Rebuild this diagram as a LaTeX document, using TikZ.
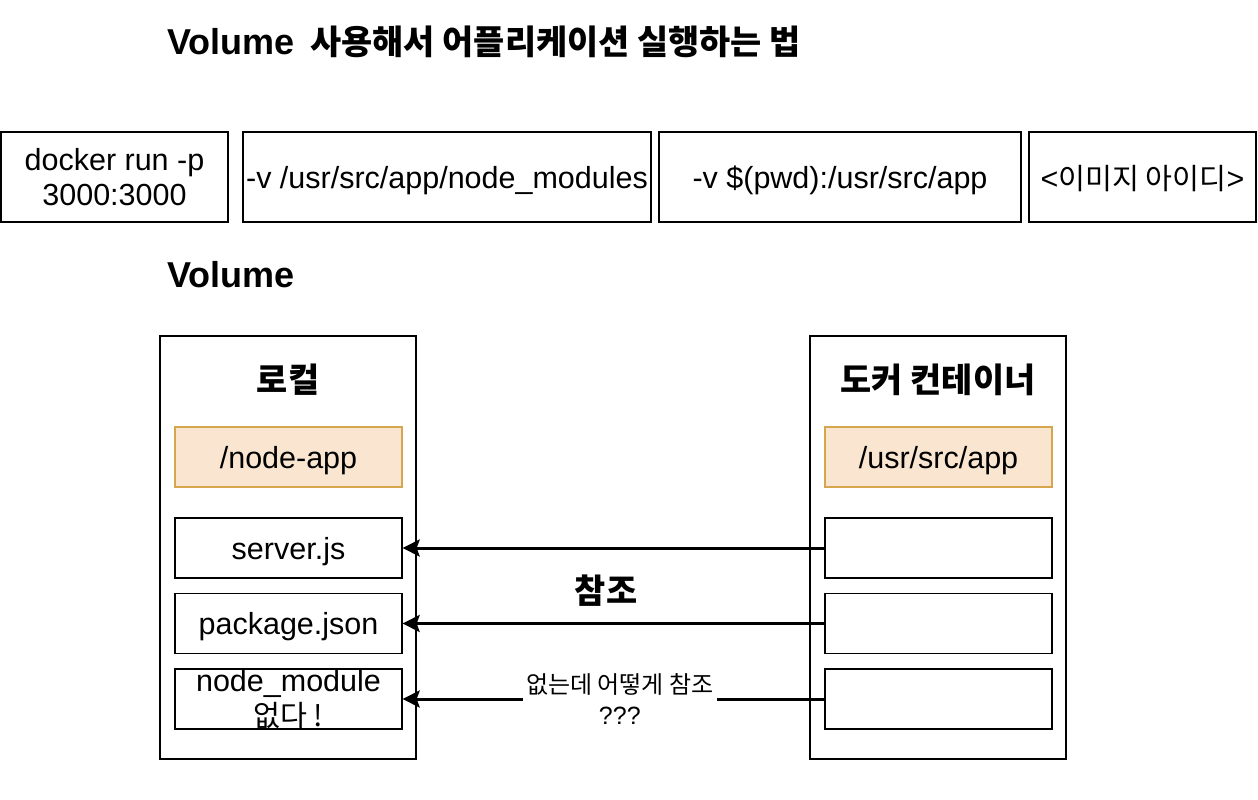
\documentclass[tikz,border=0pt]{standalone}
\usepackage{fontspec}
\setmainfont{Liberation Sans}
\newfontfamily\cjk[Scale=0.96]{Noto Sans CJK KR}
\newfontfamily\cjkh[Scale=0.94]{Noto Sans CJK KR}
\usetikzlibrary{arrows.meta}
\definecolor{ofill}{HTML}{FAE6D0}
\definecolor{odraw}{HTML}{D6A64E}
\begin{document}
\begin{tikzpicture}[x=1pt,y=-1pt,
  rbox/.style={draw=black, line width=1.3pt, inner sep=0pt, align=center,
    font=\fontsize{30.5}{35}\selectfont},
  one/.style={text depth=0pt},
  topbox/.style={rbox, minimum height=90pt},
  inbox/.style={rbox, minimum width=227pt, minimum height=60pt},
  obox/.style={inbox, fill=ofill, draw=odraw},
  cont/.style={draw=black, line width=1.3pt, inner sep=0pt, minimum width=256pt, minimum height=423pt},
  head/.style={inner sep=0pt, font=\fontsize{36}{40}\selectfont\bfseries},
  arr/.style={line width=3pt, -{Stealth[length=17pt,width=17pt,inset=3pt]}},
]
\useasboundingbox (0,0) rectangle (1258,800);
% title
\node[head, anchor=west] (title) at (167,42) {Volume\hspace{16pt}{\cjkh 사용해서 어플리케이션 실행하는 법}};
% top command boxes
\node[topbox, minimum width=227pt] (b1) at (114.5,177) {docker run -p\\3000:3000};
\node[topbox, one, minimum width=408pt] (b2) at (447,177) {-v /usr/src/app/node\_modules};
\node[topbox, one, minimum width=362pt] (b3) at (840,177) {-v \$(pwd):/usr/src/app};
\node[topbox, one, minimum width=227pt] (b4) at (1142.5,177) {<{\cjk 이미지 아이디}>};
% Volume heading
\node[head, anchor=west] (vol) at (167,275) {Volume};
% containers
\node[cont] (left) at (288,547.5) {};
\node[cont] (right) at (938,547.5) {};
\node[head] (lt) at (288,380) {\cjkh 로컬};
\node[head] (rt) at (938,380) {\cjkh 도커 컨테이너};
% left inner boxes
\node[obox, one] (napp) at (288.5,457) {/node-app};
\node[inbox, one] (srv) at (288.5,548) {server.js};
\node[inbox, one] (pkg) at (288.5,623.5) {package.json};
\node[inbox] (nm) at (288.5,699) {node\_module\\{\cjk 없다 !}};
% right inner boxes
\node[obox, one] (uapp) at (938.5,457) {/usr/src/app};
\node[inbox] (r1) at (938.5,548) {};
\node[inbox] (r2) at (938.5,623.5) {};
\node[inbox] (r3) at (938.5,699) {};
% arrows
\draw[arr] (r1.west) -- (srv.east);
\draw[arr] (r2.west) -- (pkg.east);
\draw[arr] (r3.west) -- node[pos=0.485, fill=white, inner xsep=3pt, inner ysep=0pt, align=center,
   font=\fontsize{25}{31}\selectfont] (lbl) {{\cjk 없는데 어떻게 참조}\\???} (nm.east);
\node[head] (ref) at (606,591) {\cjkh 참조};
\end{tikzpicture}
\end{document}
